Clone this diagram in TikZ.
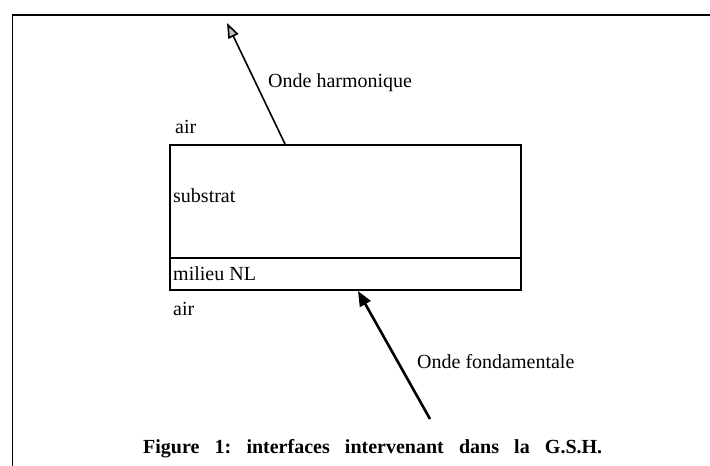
\documentclass[tikz,border=0pt]{standalone}
\usepackage{fontspec}
\setmainfont{Liberation Serif}
\usetikzlibrary{arrows.meta}
\begin{document}
\begin{tikzpicture}[x=1pt,y=-1pt,
  lbl/.style={anchor=base west,inner sep=0pt,font=\fontsize{20}{24}\selectfont},
  frameline/.style={line width=1.8pt},
  layer/.style={draw,line width=1.6pt},
  wavea/.style={line width=1.6pt,-{Triangle[length=15pt,width=11pt,fill=gray!50]}},
  waveb/.style={line width=2.6pt,-{Triangle[length=15pt,width=12pt]}}]
\useasboundingbox (0,0) rectangle (710,466);
\fill[white] (0,0) rectangle (710,466);
% outer frame (open on the right and bottom)
\draw[frameline] (712,15) -- (12.5,15) -- (12.5,468);
% layers
\node[layer,minimum width=351pt,minimum height=113pt,inner sep=0pt,anchor=north west] (sub) at (169,144) {};
\node[layer,minimum width=351pt,minimum height=32pt,inner sep=0pt,anchor=north west] (nl) at (169,257) {};
% labels
\node[lbl] (airtop) at (175,133) {air};
\node[lbl] (subl) at (173,202) {substrat};
\node[lbl] (nll) at (173,280) {milieu NL};
\node[lbl] (airbot) at (173,315) {air};
\node[lbl] (harm) at (268,87) {Onde harmonique};
\node[lbl] (fond) at (417,368) {Onde fondamentale};
% waves
\coordinate (ha) at (285,144);
\coordinate (hb) at (227,23);
\coordinate (fa) at (430,419);
\coordinate (fb) at (358,291);
\draw[wavea] (ha) -- (hb);
\draw[waveb] (fa) -- (fb);
% caption
\node[anchor=base west,inner sep=0pt,font=\fontsize{20}{24}\selectfont\bfseries\frenchspacing] (cap) at (143,453)
  {\makebox[459pt][s]{Figure 1: interfaces intervenant dans la G.S.H.}};
\end{tikzpicture}
\end{document}
